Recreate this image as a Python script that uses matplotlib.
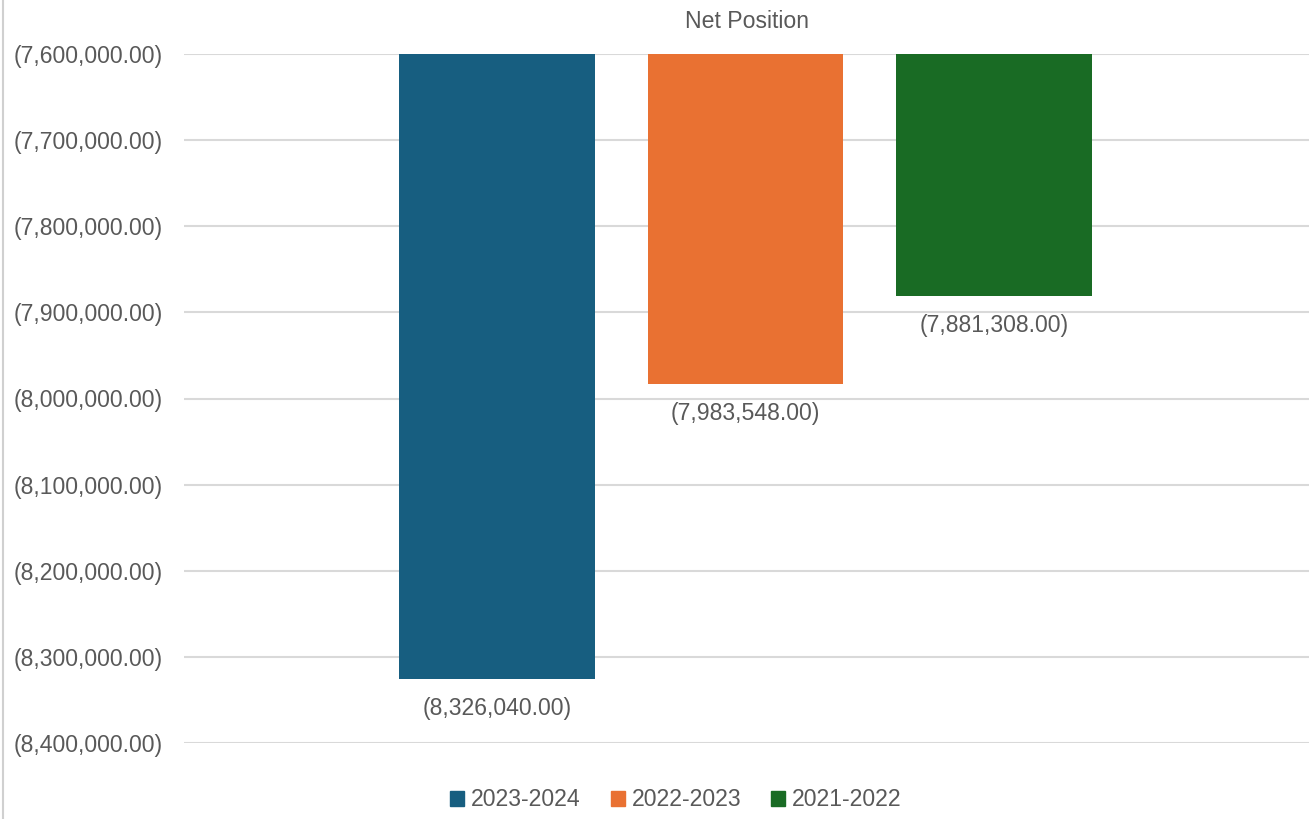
import matplotlib
matplotlib.use("Agg")
import matplotlib.pyplot as plt
from matplotlib.lines import Line2D
from matplotlib.ticker import FuncFormatter, MultipleLocator
import numpy as np

plt.rcParams['font.family'] = ['Liberation Sans', 'DejaVu Sans']

# Net position per fiscal year
periods = ["2023-2024", "2022-2023", "2021-2022"]
net_position = [-8326040.00, -7983548.00, -7881308.00]
colors = ["#175E80", "#E97132", "#196B24"]

axis_top = -7600000
axis_bottom = -8400000
text_gray = "#595959"
fs = 16.6


def acct(v, _pos=None):
    s = f"{abs(v):,.2f}"
    return f"({s})" if v < 0 else s


fig = plt.figure(figsize=(13.09, 8.19), dpi=100)
ax = fig.add_axes([184 / 1309, 76 / 819, (1309 - 184) / 1309, (743 - 54) / 819])

x = np.arange(len(periods))
heights = [v - axis_top for v in net_position]
ax.bar(x, heights, bottom=axis_top, width=0.787, color=colors, zorder=3)

for xi, v in zip(x, net_position):
    ax.annotate(acct(v), xy=(xi, v), xytext=(0, -21), textcoords="offset points",
                ha="center", va="center", fontsize=fs, color=text_gray)

ax.set_ylim(axis_bottom, axis_top)
ax.set_xlim(-1.257, 3.265)
ax.yaxis.set_major_locator(MultipleLocator(100000))
ax.yaxis.set_major_formatter(FuncFormatter(acct))
ax.grid(axis="y", color="#D9D9D9", linewidth=1.5, zorder=0)
ax.set_xticks([])
ax.tick_params(axis="y", length=0, pad=15, labelsize=fs, labelcolor=text_gray)
for sp in ax.spines.values():
    sp.set_visible(False)

fig.text(747 / 1309, 1 - 22 / 819, "Net Position", ha="center", va="center",
         fontsize=fs, color=text_gray)

# chart frame edge on the left
fig.add_artist(Line2D([3 / 1309, 3 / 1309], [0, 1], transform=fig.transFigure,
                      color="#D0D0D0", linewidth=1.5))

handles = [plt.Rectangle((0, 0), 1, 1, color=c) for c in colors]
fig.legend(handles, periods, loc="center", bbox_to_anchor=(676 / 1309, 19 / 819),
           ncol=3, frameon=False, fontsize=fs, labelcolor=text_gray,
           handlelength=0.6, handleheight=0.6, handletextpad=0.3, columnspacing=1.3)

fig.savefig("out.png", dpi=100, facecolor="white")
